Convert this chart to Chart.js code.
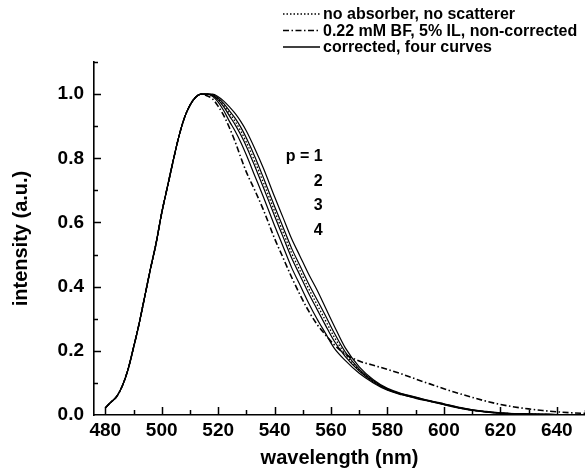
<!DOCTYPE html>
<html>
<head>
<meta charset="utf-8">
<script src="https://cdn.jsdelivr.net/npm/chart.js@4.4.1/dist/chart.umd.min.js"></script>
<style>
  html, body { margin: 0; padding: 0; background: #fff; }
  #wrap { width: 585px; height: 472px; }
</style>
</head>
<body>
<div id="wrap"><canvas id="c" width="585" height="472"></canvas></div>
<script>
// ---- data ----
const wavelengths = [480, 482, 484, 486, 488, 490, 492, 494, 496, 498, 500, 502, 504, 506, 508, 510, 512, 514,
  516, 518, 520, 522, 524, 526, 528, 530, 533, 536, 540, 543, 546, 549, 552, 555, 558, 561,
  565, 570, 575, 580, 585, 590, 595, 600, 605, 610, 615, 620, 625, 630, 635, 640, 645, 650];

// rising edge, identical for every curve (480..514 nm)
const riseShared = [0.022, 0.04, 0.057, 0.09, 0.14, 0.21, 0.285, 0.37, 0.455, 0.535, 0.63, 0.71, 0.79, 0.865, 0.925, 0.965, 0.99, 1.0];

// falling edge (516..650 nm)
const fallNoAbsorber = [1.0, 0.997, 0.985, 0.965, 0.94, 0.915, 0.885, 0.85, 0.79, 0.725, 0.635, 0.57, 0.505, 0.45, 0.395, 0.345, 0.295, 0.245,
  0.19, 0.14, 0.105, 0.08, 0.065, 0.054, 0.043, 0.033, 0.023, 0.015, 0.01, 0.006, 0.004, 0.003, 0.002, 0.001, 0.0005, 0];
const fallNonCorrected = [0.995, 0.985, 0.962, 0.933, 0.895, 0.852, 0.803, 0.757, 0.7, 0.64, 0.55, 0.49, 0.43, 0.375, 0.325, 0.283, 0.25, 0.22,
  0.19, 0.168, 0.155, 0.142, 0.128, 0.112, 0.097, 0.082, 0.068, 0.055, 0.043, 0.033, 0.025, 0.019, 0.014, 0.01, 0.007, 0.005];
const fallP1 = [1.0, 0.993, 0.975, 0.948, 0.915, 0.885, 0.85, 0.81, 0.745, 0.68, 0.59, 0.525, 0.46, 0.405, 0.35, 0.3, 0.255, 0.21,
  0.17, 0.13, 0.1, 0.077, 0.063, 0.052, 0.042, 0.032, 0.022, 0.014, 0.009, 0.006, 0.004, 0.003, 0.002, 0.001, 0.0005, 0];
const fallP2 = [1.0, 0.996, 0.982, 0.96, 0.932, 0.905, 0.873, 0.837, 0.775, 0.71, 0.62, 0.555, 0.49, 0.435, 0.38, 0.33, 0.28, 0.232,
  0.183, 0.137, 0.103, 0.079, 0.064, 0.053, 0.043, 0.033, 0.023, 0.015, 0.01, 0.006, 0.004, 0.003, 0.002, 0.001, 0.0005, 0];
const fallP3 = [1.0, 0.998, 0.988, 0.97, 0.948, 0.925, 0.897, 0.863, 0.805, 0.74, 0.65, 0.585, 0.52, 0.465, 0.41, 0.36, 0.31, 0.258,
  0.197, 0.143, 0.107, 0.081, 0.066, 0.055, 0.044, 0.034, 0.024, 0.016, 0.01, 0.006, 0.004, 0.003, 0.002, 0.001, 0.0005, 0];
const fallP4 = [1.0, 1.0, 0.992, 0.978, 0.96, 0.94, 0.915, 0.885, 0.83, 0.77, 0.68, 0.615, 0.55, 0.495, 0.44, 0.39, 0.335, 0.28,
  0.21, 0.15, 0.11, 0.083, 0.067, 0.056, 0.045, 0.035, 0.025, 0.016, 0.011, 0.007, 0.004, 0.003, 0.002, 0.001, 0.0005, 0];

const legendLabels = ['no absorber, no scatterer', '0.22 mM BF, 5% IL, non-corrected', 'corrected, four curves'];
const pLabels = ['p = 1', '2', '3', '4'];
const pLabelAt = [[557, 0.805], [557, 0.728], [557, 0.652], [557, 0.575]]; // (nm, intensity) anchors
const xTickValues = [480, 500, 520, 540, 560, 580, 600, 620, 640];
const yTickValues = [0.0, 0.2, 0.4, 0.6, 0.8, 1.0];

const FONT = '"Liberation Sans", Arial, sans-serif';
const DOTTED = [1.5, 2];
const DASHDOT = [6, 2.5, 1.5, 2.5];

function points(fall) {
  return wavelengths.map((w, i) => ({ x: w, y: i < riseShared.length ? riseShared[i] : fall[i - riseShared.length] }));
}

function line(fall, dash, width) {
  return {
    data: points(fall),
    borderColor: '#000',
    borderWidth: width,
    borderDash: dash,
    pointRadius: 0,
    fill: false,
    cubicInterpolationMode: 'monotone'
  };
}

// inward ticks, legend and p labels
const decorations = {
  id: 'decorations',
  afterDraw(chart) {
    const { ctx, chartArea: a } = chart;
    const x = chart.scales.x, y = chart.scales.y;
    ctx.save();
    ctx.strokeStyle = '#000';
    ctx.lineWidth = 1.5;
    ctx.setLineDash([]);
    ctx.beginPath();
    for (let v = 480; v <= 650; v += 10) {
      const px = Math.round(x.getPixelForValue(v)) + 0.5;
      const len = v % 20 === 0 ? 8 : 5;
      ctx.moveTo(px, a.bottom);
      ctx.lineTo(px, a.bottom - len);
    }
    for (let i = 1; i <= 11; i++) {
      const py = Math.round(y.getPixelForValue(i / 10)) + 0.5;
      const len = i % 2 === 0 ? 7 : 4;
      ctx.moveTo(a.left, py);
      ctx.lineTo(a.left + len, py);
    }
    ctx.stroke();

    // legend
    const dashes = [DOTTED, DASHDOT, []];
    ctx.font = 'bold 16px ' + FONT;
    ctx.textBaseline = 'middle';
    ctx.fillStyle = '#000';
    legendLabels.forEach((t, i) => {
      const ly = 14 + i * 16.5;
      ctx.beginPath();
      ctx.lineWidth = 1.3;
      ctx.setLineDash(dashes[i]);
      ctx.moveTo(283, ly);
      ctx.lineTo(320, ly);
      ctx.stroke();
      ctx.setLineDash([]);
      ctx.fillText(t, 323, ly + 1);
    });

    // p = 1..4
    ctx.font = 'bold 16px ' + FONT;
    ctx.textAlign = 'right';
    pLabels.forEach((t, i) => {
      ctx.fillText(t, x.getPixelForValue(pLabelAt[i][0]), y.getPixelForValue(pLabelAt[i][1]));
    });
    ctx.restore();
  }
};

new Chart(document.getElementById('c'), {
  type: 'line',
  data: {
    datasets: [
      line(fallP1, [], 1.2),
      line(fallP2, [], 1.2),
      line(fallP3, [], 1.2),
      line(fallP4, [], 1.2),
      line(fallNoAbsorber, DOTTED, 1.3),
      line(fallNonCorrected, DASHDOT, 1.6)
    ]
  },
  options: {
    responsive: false,
    animation: false,
    devicePixelRatio: 1,
    layout: { padding: { top: 62, right: 0, left: 0, bottom: 0 } },
    plugins: { legend: { display: false }, tooltip: { enabled: false } },
    scales: {
      x: {
        type: 'linear',
        min: 476,
        max: 650,
        afterBuildTicks: s => { s.ticks = xTickValues.map(v => ({ value: v })); },
        afterFit: s => { s.height = 57; s.paddingLeft = 0; s.paddingRight = 0; },
        ticks: {
          color: '#000',
          padding: 4,
          maxRotation: 0,
          font: { family: FONT, size: 19, weight: 'bold' }
        },
        grid: { display: true, drawOnChartArea: false, drawTicks: false },
        border: { display: true, color: '#000', width: 1.6 },
        title: {
          display: true,
          text: 'wavelength (nm)',
          color: '#000',
          padding: { top: 0, bottom: 2 },
          font: { family: FONT, size: 20, weight: 'bold' }
        }
      },
      y: {
        min: 0,
        max: 1.1,
        afterBuildTicks: s => { s.ticks = yTickValues.map(v => ({ value: v })); },
        afterFit: s => { s.width = 94; s.paddingTop = 0; s.paddingBottom = 0; },
        ticks: {
          color: '#000',
          padding: 10,
          callback: v => v.toFixed(1),
          font: { family: FONT, size: 19, weight: 'bold' }
        },
        grid: { display: true, drawOnChartArea: false, drawTicks: false },
        border: { display: true, color: '#000', width: 1.6 },
        title: {
          display: true,
          text: 'intensity (a.u.)',
          color: '#000',
          padding: { top: 9, bottom: 0 },
          font: { family: FONT, size: 20, weight: 'bold' }
        }
      }
    }
  },
  plugins: [decorations]
});
</script>
</body>
</html>
